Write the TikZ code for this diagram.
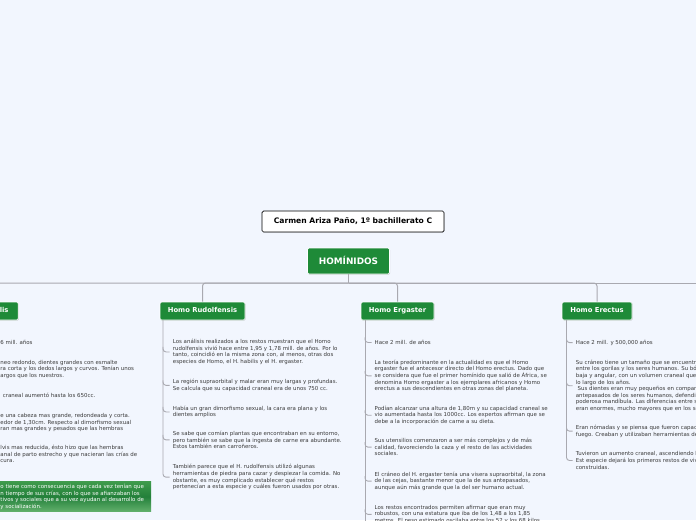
\documentclass[tikz,border=0pt]{standalone}
\usepackage{fontspec}
\setmainfont{DejaVu Sans}
\usetikzlibrary{shadows}
\definecolor{bg}{HTML}{F2F6FE}
\definecolor{hgreen}{HTML}{1E8A38}
\definecolor{lgray}{HTML}{A9A9B0}
\definecolor{txt}{HTML}{3A3A3A}
\definecolor{gtop}{HTML}{3F9B4C}
\definecolor{gmid}{HTML}{23803A}
\definecolor{gbot}{HTML}{62B06C}
\tikzset{
  topic/.style={fill=hgreen, draw=white, line width=0.6pt, rounded corners=1.5pt,
    text=white, font=\bfseries\fontsize{6.8}{8}\selectfont, minimum height=18pt,
    text height=5.2pt, text depth=1.4pt,
    inner xsep=5pt, drop shadow={shadow xshift=0.7pt, shadow yshift=-0.7pt, opacity=0.35}},
  item/.style={anchor=north west, inner sep=0pt, align=left, text=txt,
    font=\fontsize{5.45}{6.6}\selectfont},
  conn/.style={draw=lgray, line width=1pt},
  tick/.style={draw=lgray, line width=0.9pt, rounded corners=3pt},
}
\begin{document}
\begin{tikzpicture}[x=1pt,y=-1pt]
\fill[bg] (0,0) rectangle (696,520);
\useasboundingbox (0,0) rectangle (696,520);
\clip (0,0) rectangle (696,520);

% title and root
\node[draw=black, fill=white, line width=0.7pt, rounded corners=1.5pt, minimum width=182pt,
  minimum height=21pt, font=\bfseries\fontsize{7.6}{9}\selectfont, text=black,
  drop shadow={shadow xshift=0.6pt, shadow yshift=-0.6pt, opacity=0.3}] (title) at (353,221.5)
  {Carmen Ariza Paño, 1º bachillerato C};
\node[topic, minimum width=82pt, minimum height=26pt, font=\bfseries\fontsize{8.9}{10}\selectfont,
  text height=6.8pt, text depth=0pt]
  (hom) at (348.5,261) {HOMÍNIDOS};

% branches
\node[topic, minimum width=85pt] (rud) at (202.5,311) {Homo Rudolfensis};
\node[topic, minimum width=73pt] (erg) at (397.5,311) {Homo Ergaster};
\node[topic, minimum width=70pt] (ere) at (597,311) {Homo Erectus};
\node[topic, anchor=east, minimum width=70pt] (hab) at (18.5,311) {Homo Habilis};

\coordinate (hub) at (348.5,283);
\coordinate (rend) at (700,283);
\draw[conn] (hom.south) -- (hub);
\draw[conn] (hub) -- (rend);
\draw[conn, rounded corners=3pt] (hub) -| (rud.north);
\draw[conn, rounded corners=3pt] (hub) -| (erg.north);
\draw[conn, rounded corners=3pt] (hub) -| (ere.north);
\draw[conn, rounded corners=3pt] (hub) -| (hab.north);

% ---------- Homo Habilis (cut at left edge)
\node[item] (h1) at (0.3,339.7) {6 mill. años};
\node[item] (h2) at (0.3,359.7) {neo redondo, dientes grandes con esmalte\\ra corta y los dedos largos y curvos. Tenían unos\\argos que los nuestros.};
\node[item] (h3) at (2.6,393.1) {craneal aumentó hasta los 650cc.};
\node[item] (h4) at (0.3,413.1) {e una cabeza mas grande, redondeada y corta.\\edor de 1,30cm. Respecto al dimorfismo sexual\\ran mas grandes y pesados que las hembras};
\node[item] (h5) at (0.3,445.1) {lvis mas reducida, ésto hizo que las hembras\\anal de parto estrecho y que nacieran las crías de\\cura.};
\path[top color=gtop, bottom color=gbot, middle color=gmid] (-10,481.5) rectangle (151,511.7);
\node[item, text=white] (h6) at (0.3,484.1) {o tiene como consecuencia que cada vez tenían que\\n tiempo de sus crías, con lo que se afianzaban los\\tivos y sociales que a su vez ayudan al desarrollo de\\y socialización.};

% ---------- Homo Rudolfensis
\coordinate (rv) at (163,320);
\node[item] (r1) at (172.7,339.1) {Los análisis realizados a los restos muestran que el Homo\\rudolfensis vivió hace entre 1,95 y 1,78 mill. de años. Por lo\\tanto, coincidió en la misma zona con, al menos, otras dos\\especies de Homo, el H. habilis y el H. ergaster.};
\node[item] (r2) at (172.7,379.1) {La región supraorbital y malar eran muy largas y profundas.\\Se calcula que su capacidad craneal era de unos 750 cc.};
\node[item] (r3) at (172.7,405.7) {Había un gran dimorfismo sexual, la cara era plana y los\\dientes amplios};
\node[item] (r4) at (172.7,430.9) {Se sabe que comían plantas que encontraban en su entorno,\\pero también se sabe que la ingesta de carne era abundante.\\Estos también eran carroñeros.};
\node[item] (r5) at (172.7,464.3) {También parece que el H. rudolfensis utilizó algunas\\herramientas de piedra para cazar y despiezar la comida. No\\obstante, es muy complicado establecer qué restos\\pertenecían a esta especie y cuáles fueron usados por otras.};
\draw[tick] (rv) |- ([xshift=-3pt]r5.west);
\foreach \n in {r1,r2,r3,r4}{
  \draw[tick] (rv |- \n.west) ++(0,-5) |- ([xshift=-3pt]\n.west);
}

% ---------- Homo Ergaster
\coordinate (ev) at (365,320);
\coordinate (eend) at (365,525);
\node[item] (e1) at (374.5,340.1) {Hace 2 mill. de años};
\node[item] (e2) at (374.5,359.7) {La teoría predominante en la actualidad es que el Homo\\ergaster fue el antecesor directo del Homo erectus. Dado que\\se considera que fue el primer homínido que salió de África, se\\denomina Homo ergaster a los ejemplares africanos y Homo\\erectus a sus descendientes en otras zonas del planeta.};
\node[item] (e3) at (374.5,405.7) {Podían alcanzar una altura de 1,80m y su capacidad craneal se\\vio aumentada hasta los 1000cc. Los expertos afirman que se\\debe a la incorporación de carne a su dieta.};
\node[item] (e4) at (374.5,438.1) {Sus utensilios comenzaron a ser más complejos y de más\\calidad, favoreciendo la caza y el resto de las actividades\\sociales.};
\node[item] (e5) at (374.5,471.6) {El cráneo del H. ergaster tenía una visera supraorbital, la zona\\de las cejas, bastante menor que la de sus antepasados,\\aunque aún más grande que la del ser humano actual.};
\node[item] (e6) at (374.5,504.9) {Los restos encontrados permiten afirmar que eran muy\\robustos, con una estatura que iba de los 1,48 a los 1,85\\metros. El peso estimado oscilaba entre los 52 y los 68 kilos};
\draw[conn] (ev) -- (eend);
\foreach \n in {e1,e2,e3,e4,e5,e6}{
  \draw[tick] (ev |- \n.west) ++(0,-5) |- ([xshift=-3pt]\n.west);
}

% ---------- Homo Erectus
\coordinate (xv) at (566.5,320);
\node[item] (x1) at (575.7,339.7) {Hace 2 mill. y 500,000 años};
\node[item] (x2) at (575.7,359.7) {Su cráneo tiene un tamaño que se encuentra a medio camino\\entre los gorilas y los seres humanos. Su bóveda era\\baja y angular, con un volumen craneal que aumentó a\\lo largo de los años.\\\ Sus dientes eran muy pequeños en comparación con los\\antepasados de los seres humanos, defendidos por una\\poderosa mandíbula. Las diferencias entre sexos\\eran enormes, mucho mayores que en los seres humanos.};
\node[item] (x3) at (575.7,424.9) {Eran nómadas y se piensa que fueron capaces de\\fuego. Creaban y utilizaban herramientas de piedra.};
\node[item] (x4) at (575.7,451.6) {Tuvieron un aumento craneal, ascendiendo hasta\\Est especie dejará los primeros restos de viviendas\\construidas.};
\draw[tick] (xv) |- ([xshift=-3pt]x4.west);
\foreach \n in {x1,x2,x3}{
  \draw[tick] (xv |- \n.west) ++(0,-5) |- ([xshift=-3pt]\n.west);
}
\end{tikzpicture}
\end{document}
